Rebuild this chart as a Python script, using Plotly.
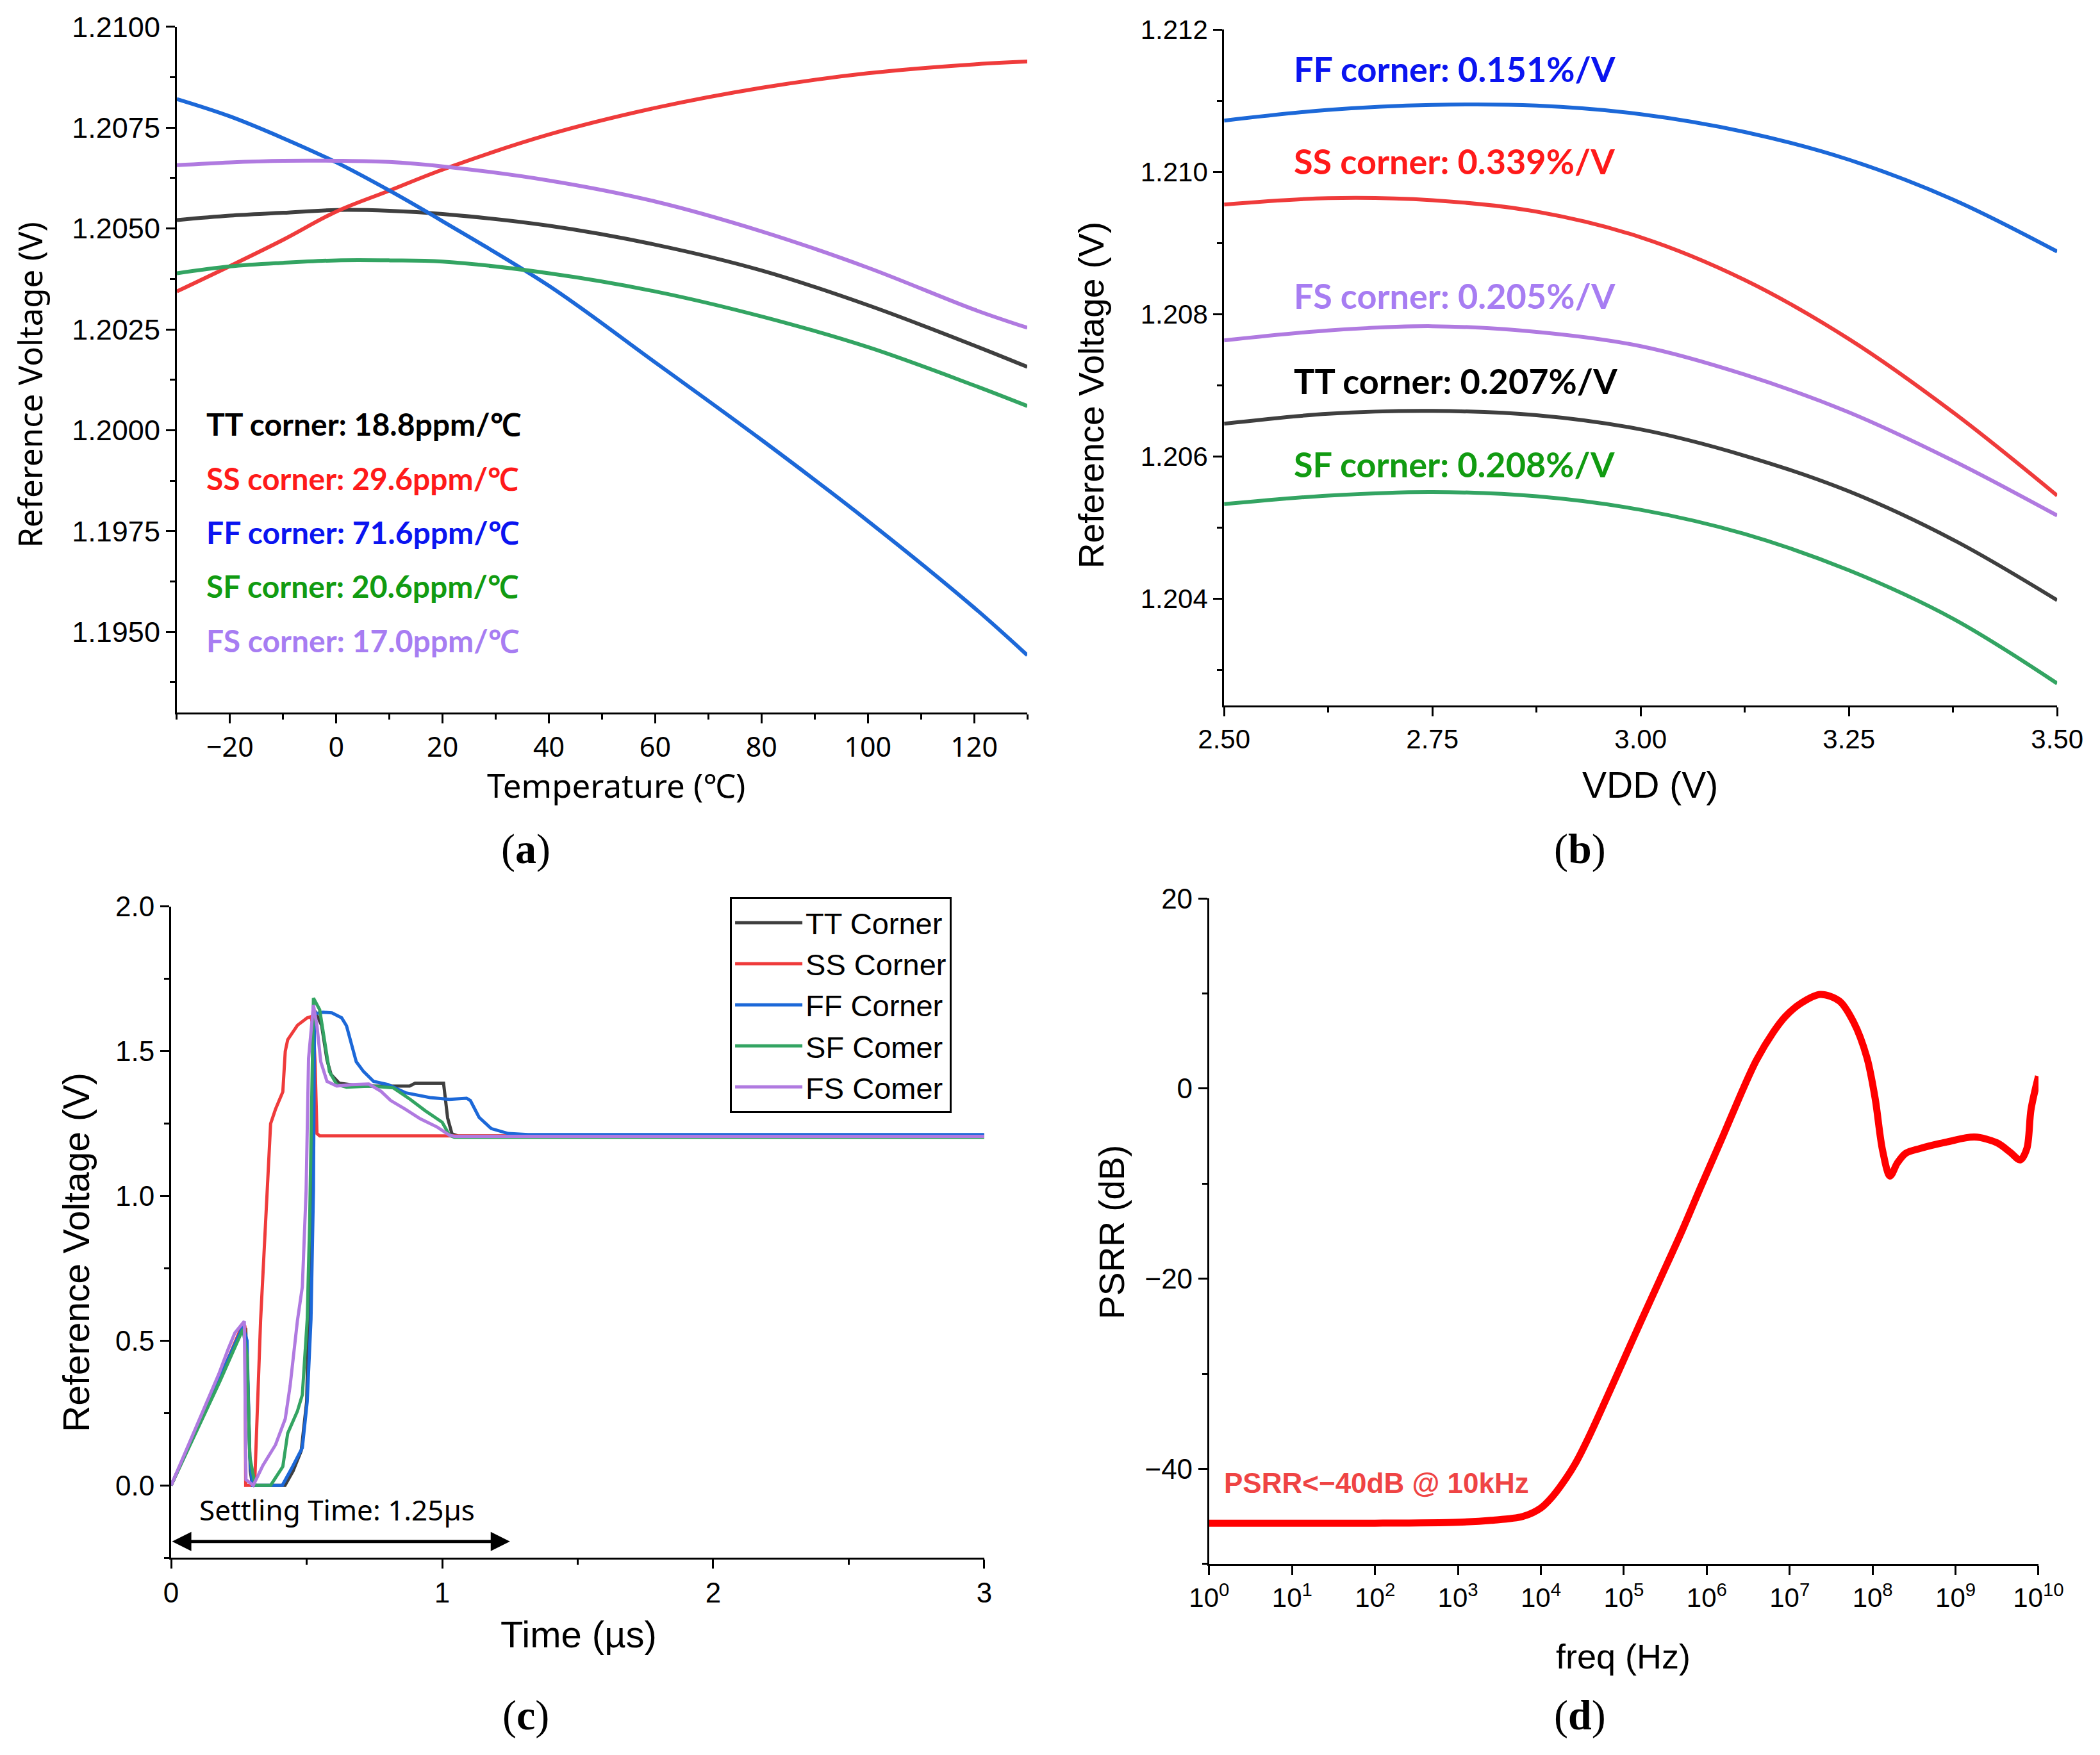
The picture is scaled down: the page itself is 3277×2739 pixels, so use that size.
import plotly.graph_objects as go

# ---------------- (a) reference voltage vs temperature ----------------
temp_c = [-30, -20, -10, 0, 10, 20, 40, 60, 80, 100, 120, 130]
a_tt = [1.20521, 1.20532, 1.20539, 1.20546, 1.20544, 1.20536, 1.20507, 1.20460, 1.20396, 1.20310, 1.20210, 1.20157]
a_ss = [1.20344, 1.20407, 1.20472, 1.20542, 1.20594, 1.20646, 1.20733, 1.20799, 1.20849, 1.20885, 1.20907, 1.20914]
a_ff = [1.20821, 1.20778, 1.20724, 1.20664, 1.20594, 1.20518, 1.20358, 1.20168, 1.19976, 1.19775, 1.19560, 1.19442]
a_sf = [1.20389, 1.20406, 1.20415, 1.20421, 1.20421, 1.20418, 1.20389, 1.20344, 1.20282, 1.20206, 1.20111, 1.20060]
a_fs = [1.20657, 1.20664, 1.20668, 1.20668, 1.20665, 1.20654, 1.20619, 1.20567, 1.20493, 1.20403, 1.20299, 1.20254]
a_labels = ["TT corner: 18.8ppm/℃", "SS corner: 29.6ppm/℃", "FF corner: 71.6ppm/℃",
            "SF corner: 20.6ppm/℃", "FS corner: 17.0ppm/℃"]

# ---------------- (b) reference voltage vs VDD ----------------
vdd = [2.5, 2.625, 2.75, 2.875, 3.0, 3.125, 3.25, 3.375, 3.5]
b_ff = [1.21072, 1.21087, 1.21094, 1.21093, 1.21081, 1.21056, 1.21017, 1.20961, 1.20888]
b_ss = [1.20954, 1.20963, 1.20960, 1.20944, 1.20908, 1.20848, 1.20765, 1.20662, 1.20545]
b_fs = [1.20763, 1.20777, 1.20783, 1.20775, 1.20755, 1.20715, 1.20662, 1.20594, 1.20517]
b_tt = [1.20646, 1.20660, 1.20664, 1.20658, 1.20638, 1.20601, 1.20551, 1.20483, 1.20398]
b_sf = [1.20533, 1.20545, 1.20550, 1.20544, 1.20525, 1.20491, 1.20440, 1.20372, 1.20281]
b_labels = ["FF corner: 0.151%/V", "SS corner: 0.339%/V", "FS corner: 0.205%/V",
            "TT corner: 0.207%/V", "SF corner: 0.208%/V"]

# ---------------- (c) start-up transient ----------------
t_tt = [0, 0.18, 0.265, 0.275, 0.283, 0.292, 0.30, 0.42, 0.45, 0.48, 0.50, 0.515, 0.53, 0.555,
        0.575, 0.59, 0.62, 0.70, 0.88, 0.90, 1.005, 1.02, 1.036, 1.06, 3.0]
v_tt = [0, 0.37, 0.55, 0.54, 0.35, 0.05, 0.0, 0.0, 0.05, 0.12, 0.29, 0.9, 1.64, 1.59,
        1.47, 1.42, 1.39, 1.38, 1.38, 1.39, 1.39, 1.27, 1.215, 1.207, 1.207]
t_ss = [0, 0.18, 0.265, 0.272, 0.275, 0.308, 0.33, 0.348, 0.362, 0.367, 0.385, 0.412, 0.421, 0.43,
        0.466, 0.502, 0.516, 0.525, 0.531, 0.538, 0.548, 3.0]
v_ss = [0, 0.37, 0.56, 0.55, 0.0, 0.0, 0.57, 0.91, 1.14, 1.25, 1.30, 1.36, 1.50, 1.54,
        1.59, 1.616, 1.62, 1.58, 1.46, 1.216, 1.208, 1.208]
t_ff = [0, 0.18, 0.265, 0.28, 0.29, 0.30, 0.41, 0.448, 0.484, 0.502, 0.516, 0.525, 0.529, 0.56,
        0.593, 0.629, 0.647, 0.683, 0.71, 0.747, 0.80, 0.864, 0.955, 1.027, 1.09, 1.104, 1.136,
        1.181, 1.244, 1.317, 3.0]
v_ff = [0, 0.37, 0.55, 0.5, 0.1, 0.0, 0.0, 0.065, 0.13, 0.29, 0.575, 1.02, 1.63, 1.635,
        1.633, 1.616, 1.588, 1.464, 1.43, 1.396, 1.385, 1.357, 1.34, 1.334, 1.338, 1.33, 1.272,
        1.233, 1.216, 1.212, 1.212]
t_sf = [0, 0.18, 0.265, 0.28, 0.29, 0.31, 0.367, 0.412, 0.43, 0.466, 0.484, 0.502, 0.511, 0.52,
        0.525, 0.548, 0.566, 0.584, 0.611, 0.647, 0.738, 0.819, 0.882, 0.937, 1.0, 1.027, 1.045, 3.0]
v_sf = [0, 0.36, 0.54, 0.45, 0.1, 0.0, 0.0, 0.065, 0.18, 0.257, 0.313, 0.573, 0.91, 1.475,
        1.684, 1.644, 1.53, 1.43, 1.385, 1.376, 1.38, 1.374, 1.334, 1.295, 1.255, 1.21, 1.203, 1.203]
t_fs = [0, 0.176, 0.21, 0.235, 0.27, 0.276, 0.303, 0.339, 0.385, 0.421, 0.439, 0.466, 0.484, 0.498,
        0.507, 0.525, 0.538, 0.552, 0.575, 0.611, 0.665, 0.729, 0.774, 0.81, 0.864, 0.919, 0.982,
        1.027, 1.045, 3.0]
v_fs = [0, 0.385, 0.47, 0.527, 0.567, 0.02, 0.0, 0.07, 0.14, 0.23, 0.345, 0.57, 0.686, 1.02,
        1.475, 1.66, 1.588, 1.464, 1.396, 1.38, 1.385, 1.387, 1.362, 1.33, 1.30, 1.267, 1.238,
        1.21, 1.206, 1.206]
c_names = ["TT Corner", "SS Corner", "FF Corner", "SF Comer", "FS Comer"]

# ---------------- (d) PSRR ----------------
log_freq = [0, 1, 2, 3, 3.4, 3.78, 4.0, 4.14, 4.31, 4.43, 4.58, 4.8, 5.0, 5.2, 5.44, 5.7, 5.93,
            6.2, 6.44, 6.6, 6.8, 6.95, 7.14, 7.37, 7.6, 7.77, 7.93, 8.03, 8.12, 8.21, 8.3, 8.4,
            8.57, 8.9, 9.23, 9.5, 9.66, 9.78, 9.86, 9.91, 10]
psrr_db = [-45.7, -45.7, -45.7, -45.6, -45.4, -45.0, -44.1, -42.9, -40.9, -39.2, -36.6, -32.4, -28.5,
           -24.6, -20.0, -15.0, -10.3, -4.9, 0.0, 3.0, 5.9, 7.6, 9.0, 9.9, 9.2, 7.0, 3.3, -1.0,
           -6.5, -9.2, -7.8, -6.8, -6.3, -5.6, -5.1, -5.7, -6.7, -7.5, -6.3, -2.2, 1.3]
decades = list(range(0, 11))

# colours
line_cols = {"TT": "#3f3f3f", "SS": "#ef3b3b", "FF": "#1c68d8", "SF": "#33a462", "FS": "#b07ae0"}
text_cols = {"TT": "#000000", "SS": "#ff1a1a", "FF": "#0a14f0", "SF": "#119b11", "FS": "#a77df2"}

SANS = "Liberation Sans, Arial, sans-serif"
HUMAN = "Noto Sans, Open Sans, sans-serif"
BOLD_LBL = "Lato, Open Sans, sans-serif"

# the page puts the plot 8px in from the top-left corner, compensate for it
DX = -8 / 3277
DY = 8 / 2739


def dom_x(a, b):
    return [a + DX, b + DX]


def dom_y(a, b):
    return [a + DY, b + DY]


fig = go.Figure()

for key, ys in zip(["TT", "SS", "FF", "SF", "FS"], [a_tt, a_ss, a_ff, a_sf, a_fs]):
    fig.add_trace(go.Scatter(x=temp_c, y=ys, mode="lines", line=dict(color=line_cols[key], width=6, shape="spline"),
                             showlegend=False, xaxis="x", yaxis="y"))

for key, ys in zip(["FF", "SS", "FS", "TT", "SF"], [b_ff, b_ss, b_fs, b_tt, b_sf]):
    fig.add_trace(go.Scatter(x=vdd, y=ys, mode="lines", line=dict(color=line_cols[key], width=6, shape="spline"),
                             showlegend=False, xaxis="x2", yaxis="y2"))

for key, name, ts, vs in zip(["TT", "SS", "FF", "SF", "FS"], c_names,
                             [t_tt, t_ss, t_ff, t_sf, t_fs], [v_tt, v_ss, v_ff, v_sf, v_fs]):
    fig.add_trace(go.Scatter(x=ts, y=vs, mode="lines", name=name, line=dict(color=line_cols[key], width=5),
                             showlegend=True, xaxis="x3", yaxis="y3"))

fig.add_trace(go.Scatter(x=[10 ** n for n in log_freq], y=psrr_db, mode="lines",
                         line=dict(color="#ff0000", width=11, shape="spline", smoothing=0.9),
                         showlegend=False, xaxis="x4", yaxis="y4"))


def axis_style(**kw):
    base = dict(showline=True, linecolor="black", linewidth=3, mirror=False, showgrid=False, zeroline=False,
                ticks="outside", ticklen=14, tickwidth=3, tickcolor="black", automargin=False,
                tickfont=dict(family=SANS, size=42, color="black"))
    base.update(kw)
    return base


minor_style = lambda d: dict(ticks="outside", ticklen=8, tickwidth=3, tickcolor="black", dtick=d)

fig.update_layout(
    width=3277, height=2739, autosize=False,
    margin=dict(l=0, r=0, t=0, b=0, autoexpand=False),
    paper_bgcolor="white", plot_bgcolor="white",
    xaxis=axis_style(domain=dom_x(0.0842, 0.4892), range=[-30, 130], dtick=20, tick0=0, anchor="y",
                     minor=minor_style(10), tickfont=dict(family=HUMAN, size=43, color="black")),
    yaxis=axis_style(domain=dom_y(0.5940, 0.9847), range=[1.1930, 1.2100], dtick=0.0025, tick0=1.2,
                     tickformat=".4f", anchor="x", minor=minor_style(0.00125),
                     tickfont=dict(family=SANS, size=45, color="black")),
    xaxis2=axis_style(domain=dom_x(0.5829, 0.9796), range=[2.5, 3.5], dtick=0.25, tick0=2.5,
                      tickformat=".2f", anchor="y2", minor=minor_style(0.125)),
    yaxis2=axis_style(domain=dom_y(0.5980, 0.9832), range=[1.2025, 1.2120], dtick=0.002, tick0=1.204,
                      tickformat=".3f", anchor="x2", minor=minor_style(0.001)),
    xaxis3=axis_style(domain=dom_x(0.0815, 0.4687), range=[0, 3], dtick=1, tick0=0, anchor="y3",
                      minor=minor_style(0.5), tickfont=dict(family=SANS, size=44, color="black")),
    yaxis3=axis_style(domain=dom_y(0.1124, 0.4834), range=[-0.25, 2.0], dtick=0.5, tick0=0,
                      tickformat=".1f", anchor="x3", minor=minor_style(0.25),
                      tickfont=dict(family=SANS, size=44, color="black")),
    xaxis4=axis_style(domain=dom_x(0.5758, 0.9707), type="log", range=[0, 10], anchor="y4",
                      tickvals=[10 ** n for n in decades],
                      ticktext=["10<sup>%d</sup>" % n for n in decades],
                      tickfont=dict(family=SANS, size=42, color="black")),
    yaxis4=axis_style(domain=dom_y(0.1088, 0.4881), range=[-50, 20], dtick=20, tick0=0, anchor="x4",
                      minor=minor_style(10), tickfont=dict(family=SANS, size=44, color="black")),
    legend=dict(x=0.3476 + DX, y=0.4889 + DY, xanchor="left", yanchor="top", bgcolor="white",
                bordercolor="black", borderwidth=3, tracegroupgap=0, itemwidth=105,
                font=dict(family=SANS, size=47, color="black")),
)

ann = []
# corner labels in (a)
for key, txt, yv in zip(["TT", "SS", "FF", "SF", "FS"], a_labels, [1.20016, 1.19880, 1.19747, 1.19614, 1.19478]):
    ann.append(dict(x=-24.7, y=yv, xref="x", yref="y", text="<b>%s</b>" % txt, showarrow=False,
                    xanchor="left", yanchor="middle", font=dict(family=BOLD_LBL, size=48, color=text_cols[key])))
# corner labels in (b)
for key, txt, yv in zip(["FF", "SS", "FS", "TT", "SF"], b_labels, [1.21145, 1.21015, 1.20826, 1.20706, 1.20589]):
    ann.append(dict(x=2.582, y=yv, xref="x2", yref="y2", text="<b>%s</b>" % txt, showarrow=False,
                    xanchor="left", yanchor="middle", font=dict(family=BOLD_LBL, size=54, color=text_cols[key])))
# settling time in (c)
ann.append(dict(x=0.1, y=-0.083, xref="x3", yref="y3", text="Settling Time: 1.25µs", showarrow=False,
                xanchor="left", yanchor="middle", font=dict(family=HUMAN, size=44, color="black")))
ann.append(dict(x=1.25, y=-0.194, ax=0, ay=-0.194, xref="x3", yref="y3", axref="x3", ayref="y3",
                text="", showarrow=True, arrowside="end+start", arrowhead=2, arrowsize=1.2,
                arrowwidth=5, arrowcolor="black"))
# PSRR note in (d)
ann.append(dict(x=0.16, y=-41.5, xref="x4", yref="y4", text="<b>PSRR<−40dB @ 10kHz</b>", showarrow=False,
                xanchor="left", yanchor="middle",
                font=dict(family="Liberation Sans Narrow, Arial Narrow, Liberation Sans", size=44, color="#ef4444")))

# axis titles
titles = [
    ("Reference Voltage (V)", 0.0140, 0.7809, -90, HUMAN, 51),
    ("Temperature (℃)", 0.2933, 0.5528, 0, HUMAN, 51),
    ("Reference Voltage (V)", 0.5197, 0.7747, -90, SANS, 55),
    ("VDD (V)", 0.7858, 0.5528, 0, SANS, 57),
    ("Reference Voltage (V)", 0.0363, 0.2866, -90, SANS, 57),
    ("Time (µs)", 0.2756, 0.0690, 0, SANS, 58),
    ("PSRR (dB)", 0.5294, 0.2979, -90, SANS, 55),
    ("freq (Hz)", 0.7730, 0.0562, 0, SANS, 54),
]
for txt, xp, yp, ang, fam, sz in titles:
    ann.append(dict(x=xp + DX, y=yp + DY, xref="paper", yref="paper", text=txt, showarrow=False, textangle=ang,
                    xanchor="center", yanchor="middle", font=dict(family=fam, size=sz, color="black")))

# panel letters
for letter, xp, yp in [("a", 0.2505, 0.5162), ("b", 0.7525, 0.5162), ("c", 0.2505, 0.0226), ("d", 0.7525, 0.0226)]:
    ann.append(dict(x=xp + DX, y=yp + DY, xref="paper", yref="paper", text="(<b>%s</b>)" % letter, showarrow=False,
                    xanchor="center", yanchor="middle",
                    font=dict(family="Liberation Serif, Times New Roman, serif", size=66, color="black")))

fig.update_layout(annotations=ann)

fig.write_html("out.html")
